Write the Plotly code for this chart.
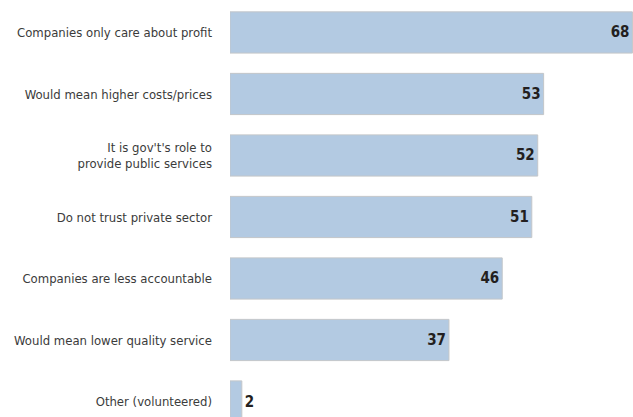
import plotly.graph_objects as go

categories = [
    "Companies only care about profit",
    "Would mean higher costs/prices",
    "It is gov't's role to<br>provide public services",
    "Do not trust private sector",
    "Companies are less accountable",
    "Would mean lower quality service",
    "Other (volunteered)",
]
values = [68, 53, 52, 51, 46, 37, 2]
value_labels = [str(v) for v in values]

FONT = "DejaVu Sans Condensed, Liberation Sans Narrow, Arial Narrow, sans-serif"

fig = go.Figure(
    go.Bar(
        x=values,
        y=categories,
        orientation="h",
        width=0.67,
        marker=dict(color="#b3cae2", line=dict(color="#c3c6c9", width=1)),
        text=value_labels,
        textposition=["inside"] * 6 + ["outside"],
        insidetextanchor="end",
        textfont=dict(family=FONT, size=15, color="#231f20", weight="bold"),
        cliponaxis=False,
        hoverinfo="skip",
    )
)

fig.update_layout(
    width=633,
    height=417,
    margin=dict(l=230, r=0, t=0, b=0, autoexpand=False),
    paper_bgcolor="white",
    plot_bgcolor="white",
    showlegend=False,
    font=dict(family=FONT, size=13, color="#3b3b3b"),
)
fig.update_xaxes(range=[0, 68.1], visible=False, fixedrange=True, automargin=False)
fig.update_yaxes(
    type="category",
    categoryorder="array",
    categoryarray=categories,
    range=[6.252, -0.528],
    automargin=False,
    showgrid=False,
    zeroline=False,
    showline=False,
    ticks="",
    ticklabelstandoff=17,
    tickfont=dict(family=FONT, size=13, color="#3b3b3b"),
    fixedrange=True,
)

fig.write_html(
    "out.html",
    config={"displayModeBar": False},
    post_script="document.body.style.margin='0';document.body.style.overflow='hidden';",
)
